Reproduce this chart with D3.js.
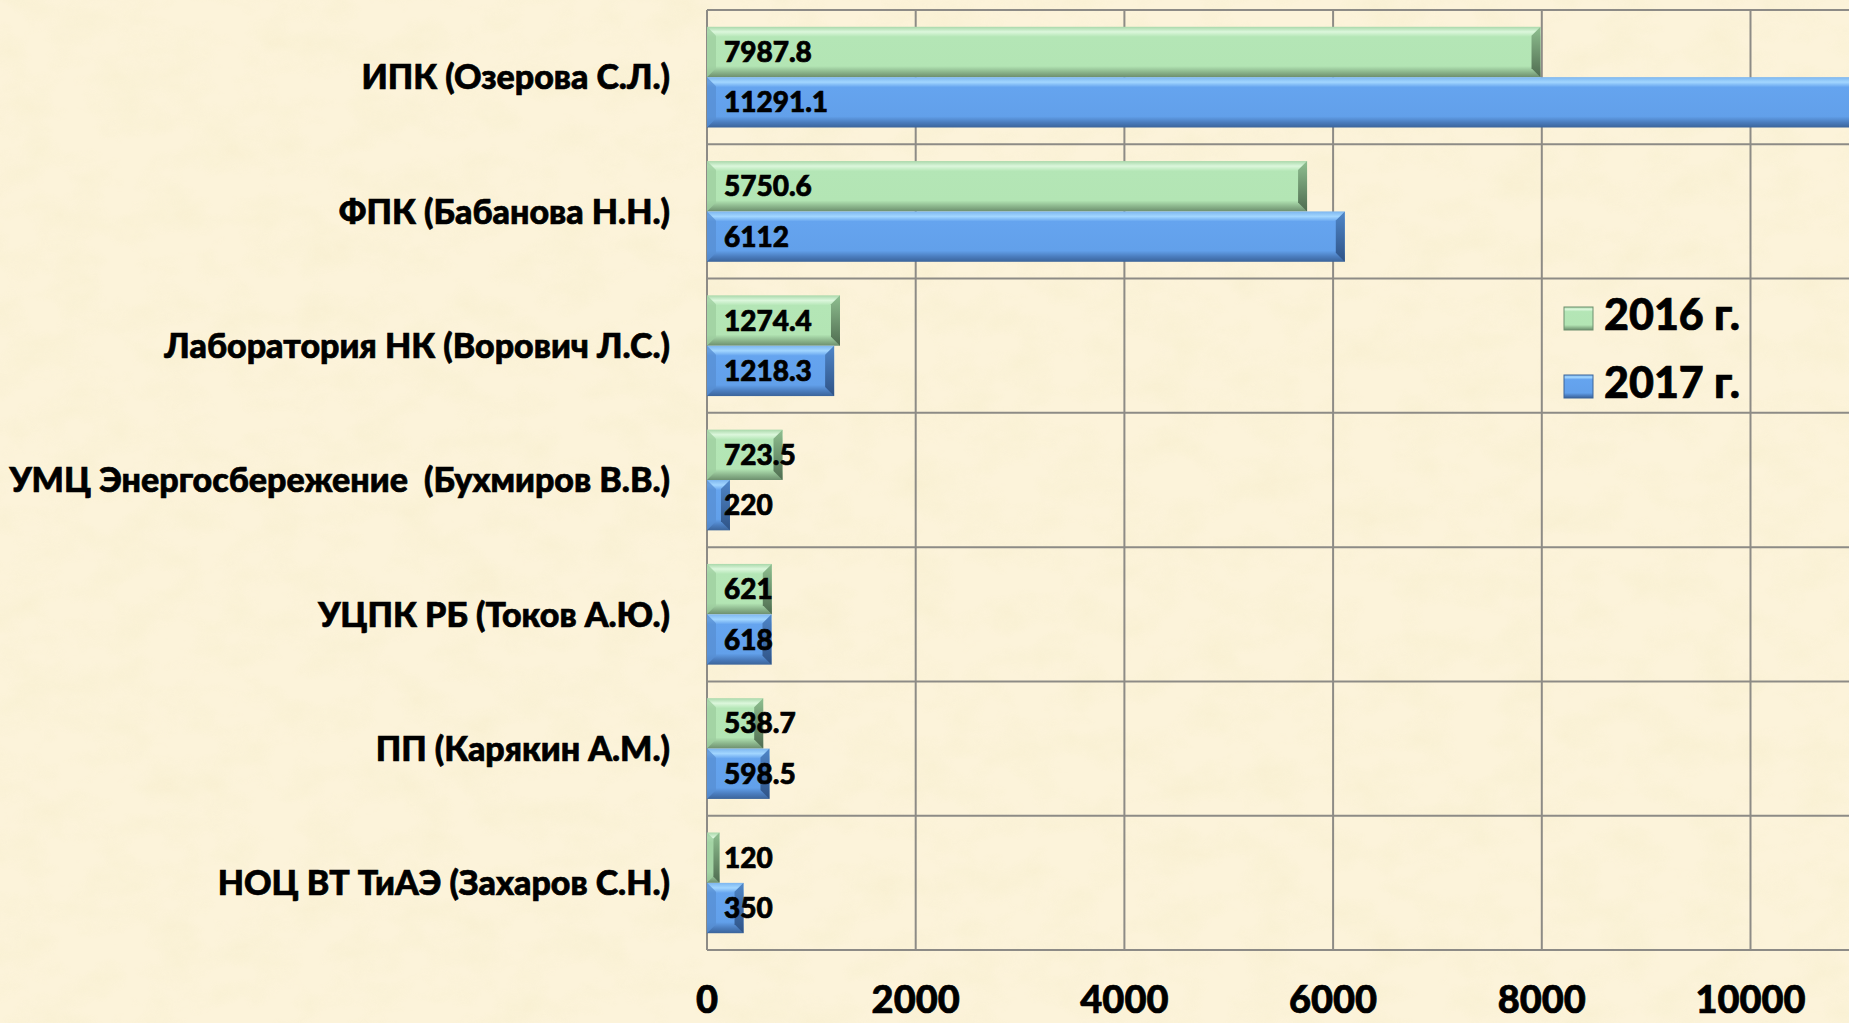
<!DOCTYPE html>
<html lang="ru">
  <head>
    <meta charset="UTF-8" />
    <title>bars</title>
    <style>
      html, body { margin: 0; padding: 0; background: #fbf1d8; }
      svg { display: block; }
      text {
        font-family: Lato, "Open Sans", sans-serif; font-weight: 900; fill: #000;
        stroke: #000; stroke-width: 0.7px; white-space: pre;
      }
    </style>
  </head>
  <body>
    <div class="container"></div>

    <script src="https://d3js.org/d3.v7.min.js"></script>
    <script>
      // data
      const categories = [
        "ИПК (Озерова С.Л.)",
        "ФПК (Бабанова Н.Н.)",
        "Лаборатория НК (Ворович Л.С.)",
        "УМЦ Энергосбережение  (Бухмиров В.В.)",
        "УЦПК РБ (Токов А.Ю.)",
        "ПП (Карякин А.М.)",
        "НОЦ ВТ ТиАЭ (Захаров С.Н.)"
      ];
      const series = ["2016 г.", "2017 г."];
      const v2016 = [7987.8, 5750.6, 1274.4, 723.5, 621, 538.7, 120];
      const v2017 = [11291.1, 6112, 1218.3, 220, 618, 598.5, 350];
      const xTicks = [0, 2000, 4000, 6000, 8000, 10000];

      const W = 1849, H = 1023;
      const mLeft = 707, mTop = 10, mBottom = 950;

      const svg = d3.select(".container").append("svg")
        .attr("width", W).attr("height", H);

      const defs = svg.append("defs");

      // parchment texture
      const f = defs.append("filter").attr("id", "paper")
        .attr("x", 0).attr("y", 0).attr("width", "100%").attr("height", "100%");
      f.append("feTurbulence").attr("type", "fractalNoise")
        .attr("baseFrequency", "0.02 0.03").attr("numOctaves", 4).attr("seed", 7);
      f.append("feColorMatrix").attr("type", "matrix")
        .attr("values", "0 0 0 0 0.93  0 0 0 0 0.86  0 0 0 0 0.62  0 0 0 1.6 -0.62");

      svg.append("rect").attr("width", W).attr("height", H).attr("fill", "#fcf3da");
      svg.append("rect").attr("width", W).attr("height", H)
        .attr("filter", "url(#paper)").attr("opacity", 0.7);

      // bar gradients
      function grad(id, stops) {
        const g = defs.append("linearGradient").attr("id", id)
          .attr("x1", 0).attr("y1", 0).attr("x2", 0).attr("y2", 1);
        stops.forEach(s => g.append("stop").attr("offset", s[0]).attr("stop-color", s[1]));
      }
      grad("g16", [[0, "#a9d8aa"], [0.1, "#dcf7dc"], [0.2, "#b4e6b6"], [0.78, "#b3e5b4"], [0.9, "#8bb58c"], [1, "#6d8f6e"]]);
      grad("g17", [[0, "#7db6ef"], [0.1, "#a2d6ff"], [0.2, "#65a4ef"], [0.78, "#62a0ea"], [0.9, "#4a7cbd"], [1, "#3b649a"]]);
      grad("e16", [[0, "#8fbf90"], [1, "#4f6c50"]]);
      grad("e17", [[0, "#4f86c8"], [1, "#2f5386"]]);
      const fills = ["url(#g16)", "url(#g17)"];
      const edges = ["url(#e16)", "url(#e17)"];
      const lefts = ["#9fcfa0", "#5890d4"];

      defs.append("clipPath").attr("id", "plot").append("rect")
        .attr("x", mLeft).attr("y", mTop).attr("width", W - mLeft).attr("height", mBottom - mTop);

      // scales
      const x = d3.scaleLinear().domain([0, 10000]).range([mLeft, 1750.5]);
      const y = d3.scaleBand().domain(categories).range([mTop, mBottom])
        .paddingInner(0.25).paddingOuter(0.125);
      const ySub = d3.scaleBand().domain(series).range([0, y.bandwidth()]);

      // grid
      const grid = svg.append("g").attr("stroke", "#8d8b86").attr("stroke-width", 2);
      grid.selectAll("line.v").data(xTicks).join("line").attr("class", "v")
        .attr("x1", d => x(d)).attr("x2", d => x(d)).attr("y1", mTop).attr("y2", mBottom);
      const bounds = d3.range(categories.length + 1).map(i => mTop + i * y.step());
      grid.selectAll("line.h").data(bounds).join("line").attr("class", "h")
        .attr("x1", mLeft).attr("x2", W).attr("y1", d => d).attr("y2", d => d);

      // bars
      const rows = categories.map((c, i) => ({ c, vals: [v2016[i], v2017[i]] }));
      const barG = svg.append("g").attr("clip-path", "url(#plot)");
      const labG = svg.append("g");
      rows.forEach(r => {
        r.vals.forEach((v, k) => {
          const y0 = y(r.c) + ySub(series[k]);
          const h = ySub.bandwidth();
          const x0 = x(0), x1 = x(v);
          barG.append("rect")
            .attr("x", x0).attr("y", y0).attr("width", x1 - x0).attr("height", h)
            .attr("fill", fills[k]);
          const ew = Math.min(9, (x1 - x0) / 2);
          barG.append("path")
            .attr("d", `M${x1 - ew},${y0 + ew} L${x1},${y0} L${x1},${y0 + h} L${x1 - ew},${y0 + h - ew} Z`)
            .attr("fill", edges[k]);
          barG.append("path")
            .attr("d", `M${x0},${y0} L${x0 + ew},${y0 + ew} L${x0 + ew},${y0 + h - ew} L${x0},${y0 + h} Z`)
            .attr("fill", lefts[k]).attr("opacity", 0.8);
          labG.append("text")
            .attr("x", x0 + 17).attr("y", y0 + h / 2).attr("dy", "0.36em")
            .attr("font-size", 28).text(String(v));
        });
      });

      // category labels
      svg.append("g").selectAll("text").data(categories).join("text")
        .attr("x", 670).attr("y", d => y(d) + y.bandwidth() / 2).attr("dy", "0.36em")
        .attr("text-anchor", "end").attr("font-size", 34).text(d => d);

      // x tick labels
      svg.append("g").selectAll("text").data(xTicks).join("text")
        .attr("x", d => x(d)).attr("y", 1013).attr("text-anchor", "middle")
        .attr("font-size", 38).text(d => d);

      // legend
      const leg = svg.append("g").attr("transform", "translate(1564,307)");
      series.forEach((s, k) => {
        const g = leg.append("g").attr("transform", `translate(0,${k * 68})`);
        g.append("rect").attr("width", 29).attr("height", 23).attr("fill", fills[k])
          .attr("stroke", k ? "#3b649a" : "#6d8f6e").attr("stroke-width", 1);
        g.append("text").attr("x", 40).attr("y", 23).attr("font-size", 43).text(s);
      });
    </script>
  </body>
</html>
